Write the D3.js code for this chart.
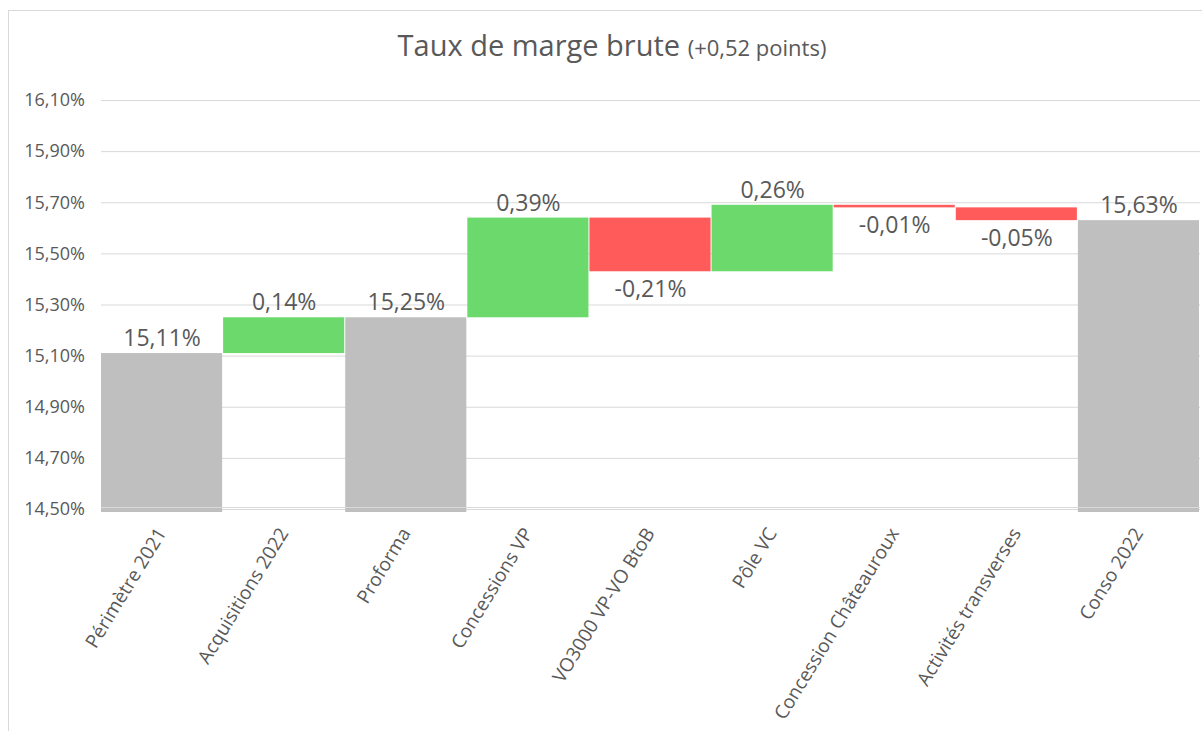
<!DOCTYPE html>
<html>
<head>
<meta charset="utf-8">
<script src="https://cdn.jsdelivr.net/npm/d3@7"></script>
<style>
  body { margin: 0; background: #fff; font-family: "Open Sans", sans-serif; }
  svg { display: block; }
</style>
</head>
<body>
<svg id="chart" width="1202" height="731"></svg>
<script>
// data
var categories = ["Périmètre 2021", "Acquisitions 2022", "Proforma", "Concessions VP", "VO3000 VP-VO BtoB",
                  "Pôle VC", "Concession Châteauroux", "Activités transverses", "Conso 2022"];
var values = [15.11, 0.14, 15.25, 0.39, -0.21, 0.26, -0.01, -0.05, 15.63];
var isTotal = [true, false, true, false, false, false, false, false, true];
var yTicks = [14.5, 14.7, 14.9, 15.1, 15.3, 15.5, 15.7, 15.9, 16.1];

var margin = {top: 100, right: 2, bottom: 222, left: 101},
    width = 1202 - margin.left - margin.right,
    height = 731 - margin.top - margin.bottom;

var svg = d3.select("#chart");

// chart frame
svg.append("rect")
    .attr("x", 8.5).attr("y", 10.5)
    .attr("width", 1200).attr("height", 740)
    .attr("fill", "none").attr("stroke", "#d9d9d9");

var title = svg.append("text")
    .attr("x", 612).attr("y", 56)
    .attr("text-anchor", "middle")
    .attr("fill", "#595959");
title.append("tspan").attr("font-size", "29px").text("Taux de marge brute ");
title.append("tspan").attr("font-size", "22px").text("(+0,52 points)");

// running totals
var bars = [], run = 0;
values.forEach(function(v, i) {
    if (isTotal[i]) {
        bars.push({cat: categories[i], start: yTicks[0], end: v, value: v, kind: "total"});
        run = v;
    } else {
        var s = run;
        run = +(run + v).toFixed(4);
        bars.push({cat: categories[i], start: s, end: run, value: v, kind: v >= 0 ? "up" : "down"});
    }
});

var x = d3.scaleBand().domain(categories).range([0, width]).padding(0);
var y = d3.scaleLinear().domain([14.5, 16.1]).range([height, 0]);

var g = svg.append("g").attr("transform", "translate(" + margin.left + "," + margin.top + ")");

var fmt = function(v) { return v.toFixed(2).replace(".", ",") + "%"; };

// grid
g.append("g")
    .call(d3.axisLeft(y).tickValues(yTicks).tickSize(-width).tickFormat(fmt))
    .call(function(a) {
        a.select(".domain").remove();
        a.selectAll(".tick line").attr("stroke", "#d9d9d9");
        a.selectAll(".tick text")
            .attr("x", -16)
            .attr("fill", "#595959")
            .attr("font-size", "18px")
            .attr("font-family", "Open Sans, sans-serif");
    });

var colors = {total: "#bfbfbf", up: "#6bd96b", down: "#ff5b5b"};

g.selectAll(".bar")
    .data(bars)
    .enter()
    .append("rect")
    .attr("class", "bar")
    .attr("x", function(d) { return x(d.cat); })
    .attr("width", x.bandwidth() - 1)
    .attr("y", function(d) { return y(Math.max(d.start, d.end)); })
    .attr("height", function(d) {
        var h = Math.abs(y(d.start) - y(d.end));
        return d.kind == "total" ? h + 3 : Math.max(h, 2);
    })
    .attr("fill", function(d) { return colors[d.kind]; });

// x axis line
g.append("line")
    .attr("x1", 0).attr("x2", width)
    .attr("y1", height - 1.5).attr("y2", height - 1.5)
    .attr("stroke", "#d9d9d9").attr("stroke-width", 1);

// data labels
g.selectAll(".lbl")
    .data(bars)
    .enter()
    .append("text")
    .attr("class", "lbl")
    .attr("x", function(d) { return x(d.cat) + x.bandwidth() / 2; })
    .attr("y", function(d) {
        if (d.kind == "down") return y(Math.min(d.start, d.end)) + 26;
        return y(Math.max(d.start, d.end)) - 7;
    })
    .attr("text-anchor", "middle")
    .attr("fill", "#595959")
    .attr("font-size", "23px")
    .text(function(d) { return fmt(d.value); });

// category labels
g.selectAll(".cat")
    .data(categories)
    .enter()
    .append("text")
    .attr("class", "cat")
    .attr("transform", function(d) {
        return "translate(" + (x(d) + x.bandwidth() / 2 + 5) + "," + (height + 24) + ") rotate(-58.5)";
    })
    .attr("text-anchor", "end")
    .attr("fill", "#595959")
    .attr("font-size", "19px")
    .text(function(d) { return d; });
</script>
</body>
</html>
